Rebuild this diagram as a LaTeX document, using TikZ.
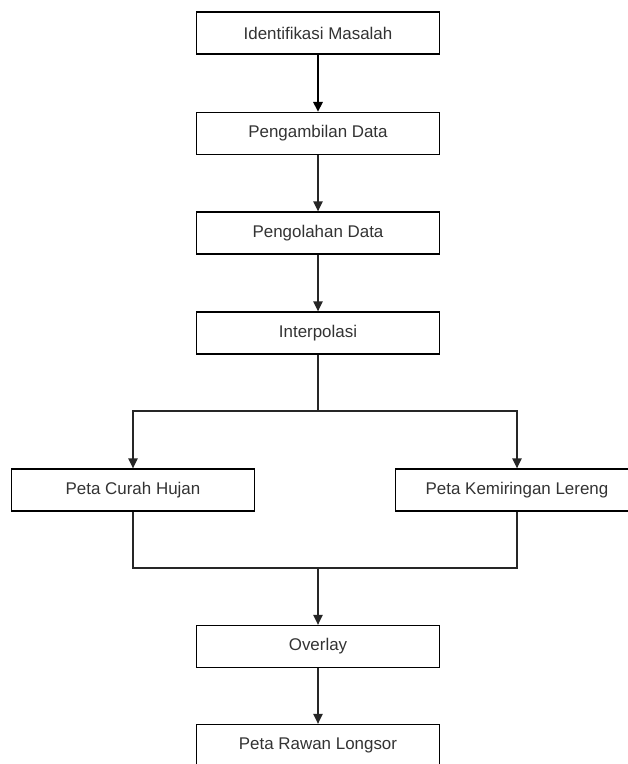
\documentclass[tikz,border=0pt]{standalone}
\usepackage{fontspec}
\setmainfont{Liberation Sans}
\usetikzlibrary{arrows.meta}
\definecolor{teks}{HTML}{333333}
\begin{document}
\begin{tikzpicture}[x=0.75pt, y=-0.75pt,
    kotak/.style={draw=black, line width=1pt, fill=white, minimum width=182pt, minimum height=31.5pt,
        inner sep=0pt, text=teks, font=\fontsize{12.7}{15}\selectfont},
    garis/.style={line width=1pt, draw=black!85},
    panah/.style={garis, -{Triangle[length=7.5pt, width=7pt]}}]
    \useasboundingbox (0,0) rectangle (628,764);
    \clip (0,0) rectangle (628,764);
    \fill [white] (0,0) rectangle (628,764);
    \node [kotak] (identifikasi) at (318,33) {Identifikasi Masalah};
    \node [kotak] (pengambilan) at (318,133.5) {Pengambilan Data};
    \node [kotak] (pengolahan) at (318,233) {Pengolahan Data};
    \node [kotak] (interpolasi) at (318,333) {Interpolasi};
    \node [kotak] (curah) at (133,490) {Peta Curah Hujan};
    \node [kotak] (lereng) at (517,490) {Peta Kemiringan Lereng};
    \node [kotak] (overlay) at (318,646.5) {Overlay};
    \node [kotak] (rawan) at (318,745.5) {Peta Rawan Longsor};
    \coordinate (cabang) at (318,411);
    \coordinate (gabung) at (318,568);
    \draw [panah, line width=1.6pt, draw=black] (identifikasi) -- (pengambilan);
    \draw [panah] (pengambilan) -- (pengolahan);
    \draw [panah] (pengolahan) -- (interpolasi);
    \draw [garis] (interpolasi) -- (cabang);
    \draw [panah] (cabang) -| (curah);
    \draw [panah] (cabang) -| (lereng);
    \draw [garis] (curah) |- (gabung);
    \draw [garis] (lereng) |- (gabung);
    \draw [panah] (gabung) -- (overlay);
    \draw [panah] (overlay) -- (rawan);
\end{tikzpicture}
\end{document}
